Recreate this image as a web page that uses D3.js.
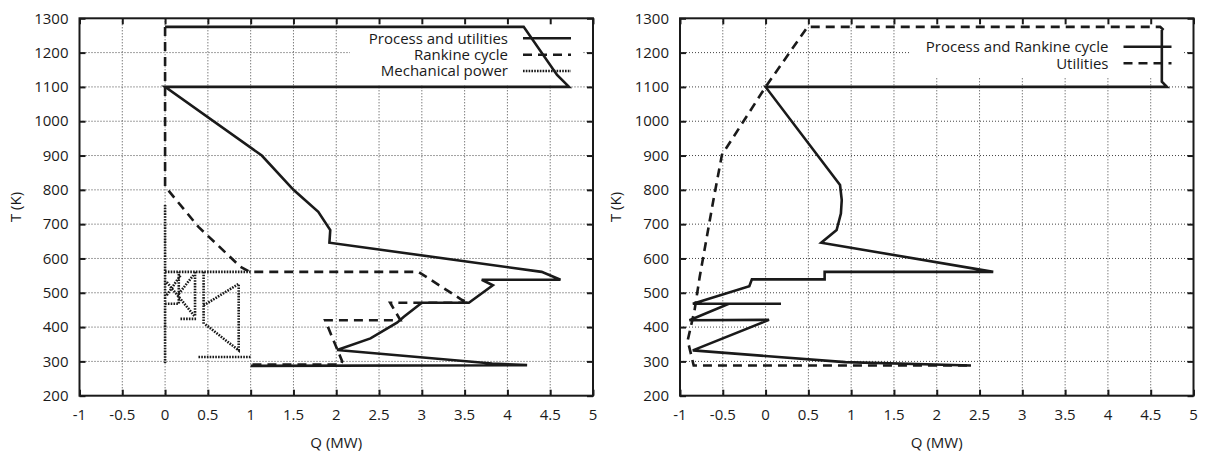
<!DOCTYPE html>
<html>
<head>
<meta charset="utf-8">
<script src="https://cdn.jsdelivr.net/npm/d3@7"></script>
<style>
  html, body { margin: 0; padding: 0; background: #fff; }
  svg { display: block; font-family: "Open Sans", "DejaVu Sans", sans-serif; }
</style>
</head>
<body>
<svg id="chart" width="1209" height="453"></svg>
<script>
/* ── Data ───────────────────────────────────────────────────────────── */
const xTicks = [-1, -0.5, 0, 0.5, 1, 1.5, 2, 2.5, 3, 3.5, 4, 4.5, 5];
const yTicks = [200, 300, 400, 500, 600, 700, 800, 900, 1000, 1100, 1200, 1300];

// left panel
const procQ = [0, 4.19, 4.58, 4.72, 0, 1.13, 1.5, 1.79, 1.93, 1.92, 4.40, 4.62, 3.70, 3.83, 3.55, 3.0, 2.79, 2.71, 2.40, 2.01, 3.82, 4.23, 1.0];
const procT = [1275, 1275, 1135, 1100, 1100, 900, 800, 736, 683, 646, 561, 538, 538, 522, 471, 471, 430, 413, 367, 333, 294, 289, 287];

const rankQ = [0, 0, 0.39, 0.88, 0.99, 2.96, 3.47, 3.55, 2.63, 2.75, 1.87, 2.07, 2.05, 1.0];
const rankT = [1275, 810, 692, 576, 561, 561, 479, 471, 471, 420, 420, 300, 291, 291];

// mechanical power: several pieces, null splits them
const mechQ = [0, 0, null, 0, 1.0, null, 0, 0.16, 0.16, null, 0.02, 0.35, null, 0.02, 0.18, null,
               0.18, 0.37, null, 0.35, 0.35, null, 0.16, 0.33, null, 0.45, 0.45, null,
               0.45, 0.86, 0.86, 0.46, null, 0.39, 1.0];
const mechT = [756, 295, null, 561, 561, null, 468, 468, 561, null, 531, 430, null, 493, 551, null,
               424, 424, null, 561, 430, null, 497, 551, null, 561, 408, null,
               463, 526, 332, 410, null, 313, 313];

// right panel
const prcQ = [4.63, 4.63, 4.69, 0, 0.87, 0.89, 0.88, 0.83, 0.65, 2.66, 0.69, 0.69, -0.16, -0.19, -0.85, 0.18, -0.43, -0.89, 0.04, -0.85, 0.93, 2.40];
const prcT = [1266, 1115, 1100, 1100, 814, 770, 731, 683, 646, 561, 561, 539, 539, 519, 468, 468, 468, 420, 421, 332, 298, 288];

const utilQ = [4.65, 4.61, 0.49, 0, -0.51, -0.61, -0.77, -0.83, -0.91, -0.84, 2.40];
const utilT = [1266, 1275, 1275, 1100, 902, 770, 546, 449, 361, 288, 288];

/* ── Styles ─────────────────────────────────────────────────────────── */
const INK = '#1a1a1a';
const FONT = '15px';
const STYLES = {
  solid:  { width: 2.6, dash: null },
  dashed: { width: 2.6, dash: '9,6' },
  dotted: { width: 2.6, dash: '1.6,1.2' },
};

const zip = (qs, ts) => qs.map((q, i) => ({ q, t: ts[i] }));

const panels = [
  {
    left: 79.5, keyRows: [38.3, 54.7, 71], keyBox: { x0: 350, y1: 85 },
    series: [
      { name: 'Process and utilities', style: 'solid',  pts: zip(procQ, procT) },
      { name: 'Rankine cycle',         style: 'dashed', pts: zip(rankQ, rankT) },
      { name: 'Mechanical power',      style: 'dotted', pts: zip(mechQ, mechT) },
    ],
  },
  {
    left: 680, keyRows: [46.7, 63.3], keyBox: { x0: 909, y1: 77 },
    series: [
      { name: 'Process and Rankine cycle', style: 'solid',  pts: zip(prcQ, prcT) },
      { name: 'Utilities',                 style: 'dashed', pts: zip(utilQ, utilT) },
    ],
  },
];

const W = 513.5, TOP = 18.3, BOTTOM = 395.7;
const svg = d3.select('#chart');

panels.forEach(p => {
  const x = d3.scaleLinear().domain([-1, 5]).range([p.left, p.left + W]);
  const y = d3.scaleLinear().domain([200, 1300]).range([BOTTOM, TOP]);
  const g = svg.append('g');

  // grid
  g.append('g').selectAll('line')
    .data(xTicks.slice(1, -1)).join('line')
      .attr('x1', d => x(d)).attr('x2', d => x(d))
      .attr('y1', TOP).attr('y2', BOTTOM);
  g.append('g').selectAll('line')
    .data(yTicks.slice(1, -1)).join('line')
      .attr('x1', p.left).attr('x2', p.left + W)
      .attr('y1', d => y(d)).attr('y2', d => y(d));
  g.selectAll('line')
    .attr('stroke', '#444').attr('stroke-width', 1).attr('stroke-dasharray', '1,2');

  // key box hides the grid
  const x1 = p.left + W;
  g.append('rect')
    .attr('x', p.keyBox.x0).attr('y', TOP)
    .attr('width', x1 - 11 - p.keyBox.x0).attr('height', p.keyBox.y1 - TOP)
    .attr('fill', '#fff');

  // series
  const line = d3.line()
    .defined(d => d.q != null)
    .x(d => x(d.q)).y(d => y(d.t));
  p.series.forEach(s => {
    const st = STYLES[s.style];
    g.append('path')
      .attr('d', line(s.pts))
      .attr('fill', 'none')
      .attr('stroke', INK)
      .attr('stroke-width', st.width)
      .attr('stroke-linejoin', 'miter')
      .attr('stroke-dasharray', st.dash);
  });

  // key
  p.series.forEach((s, i) => {
    const st = STYLES[s.style];
    const ry = p.keyRows[i];
    g.append('text')
      .attr('x', x1 - 85).attr('y', ry)
      .attr('dy', '0.35em')
      .attr('text-anchor', 'end')
      .style('font-size', FONT)
      .attr('fill', INK)
      .text(s.name);
    g.append('line')
      .attr('x1', x1 - 70).attr('x2', x1 - 22)
      .attr('y1', ry).attr('y2', ry)
      .attr('stroke', INK)
      .attr('stroke-width', st.width)
      .attr('stroke-dasharray', st.dash);
  });

  // frame + mirrored ticks
  const axisStyle = sel => {
    sel.select('.domain').remove();
    sel.selectAll('.tick line').attr('stroke', INK).attr('stroke-width', 2);
    sel.selectAll('.tick text').remove();
  };
  g.append('g').attr('transform', `translate(0,${BOTTOM})`)
    .call(d3.axisTop(x).tickValues(xTicks).tickSize(6)).call(axisStyle);
  g.append('g').attr('transform', `translate(0,${TOP})`)
    .call(d3.axisBottom(x).tickValues(xTicks).tickSize(6)).call(axisStyle);
  g.append('g').attr('transform', `translate(${p.left},0)`)
    .call(d3.axisRight(y).tickValues(yTicks).tickSize(6)).call(axisStyle);
  g.append('g').attr('transform', `translate(${x1},0)`)
    .call(d3.axisLeft(y).tickValues(yTicks).tickSize(6)).call(axisStyle);

  g.append('rect')
    .attr('x', p.left).attr('y', TOP)
    .attr('width', W).attr('height', BOTTOM - TOP)
    .attr('fill', 'none').attr('stroke', INK).attr('stroke-width', 2);

  // tick labels
  g.append('g').selectAll('text')
    .data(xTicks).join('text')
      .attr('x', d => x(d)).attr('y', 415)
      .attr('dy', '0.35em')
      .attr('text-anchor', 'middle')
      .style('font-size', FONT)
      .attr('fill', INK)
      .text(d => String(d));
  g.append('g').selectAll('text')
    .data(yTicks).join('text')
      .attr('x', p.left - 11).attr('y', d => y(d))
      .attr('dy', '0.35em')
      .attr('text-anchor', 'end')
      .style('font-size', FONT)
      .attr('fill', INK)
      .text(d => String(d));

  // axis titles
  g.append('text')
    .attr('x', p.left + W / 2).attr('y', 443)
    .attr('dy', '0.35em')
    .attr('text-anchor', 'middle')
    .style('font-size', FONT)
    .attr('fill', INK)
    .text('Q (MW)');
  g.append('text')
    .attr('transform', `translate(${p.left - 64},${(TOP + BOTTOM) / 2}) rotate(-90)`)
    .attr('dy', '0.35em')
    .attr('text-anchor', 'middle')
    .style('font-size', FONT)
    .attr('fill', INK)
    .text('T (K)');
});
</script>
</body>
</html>
